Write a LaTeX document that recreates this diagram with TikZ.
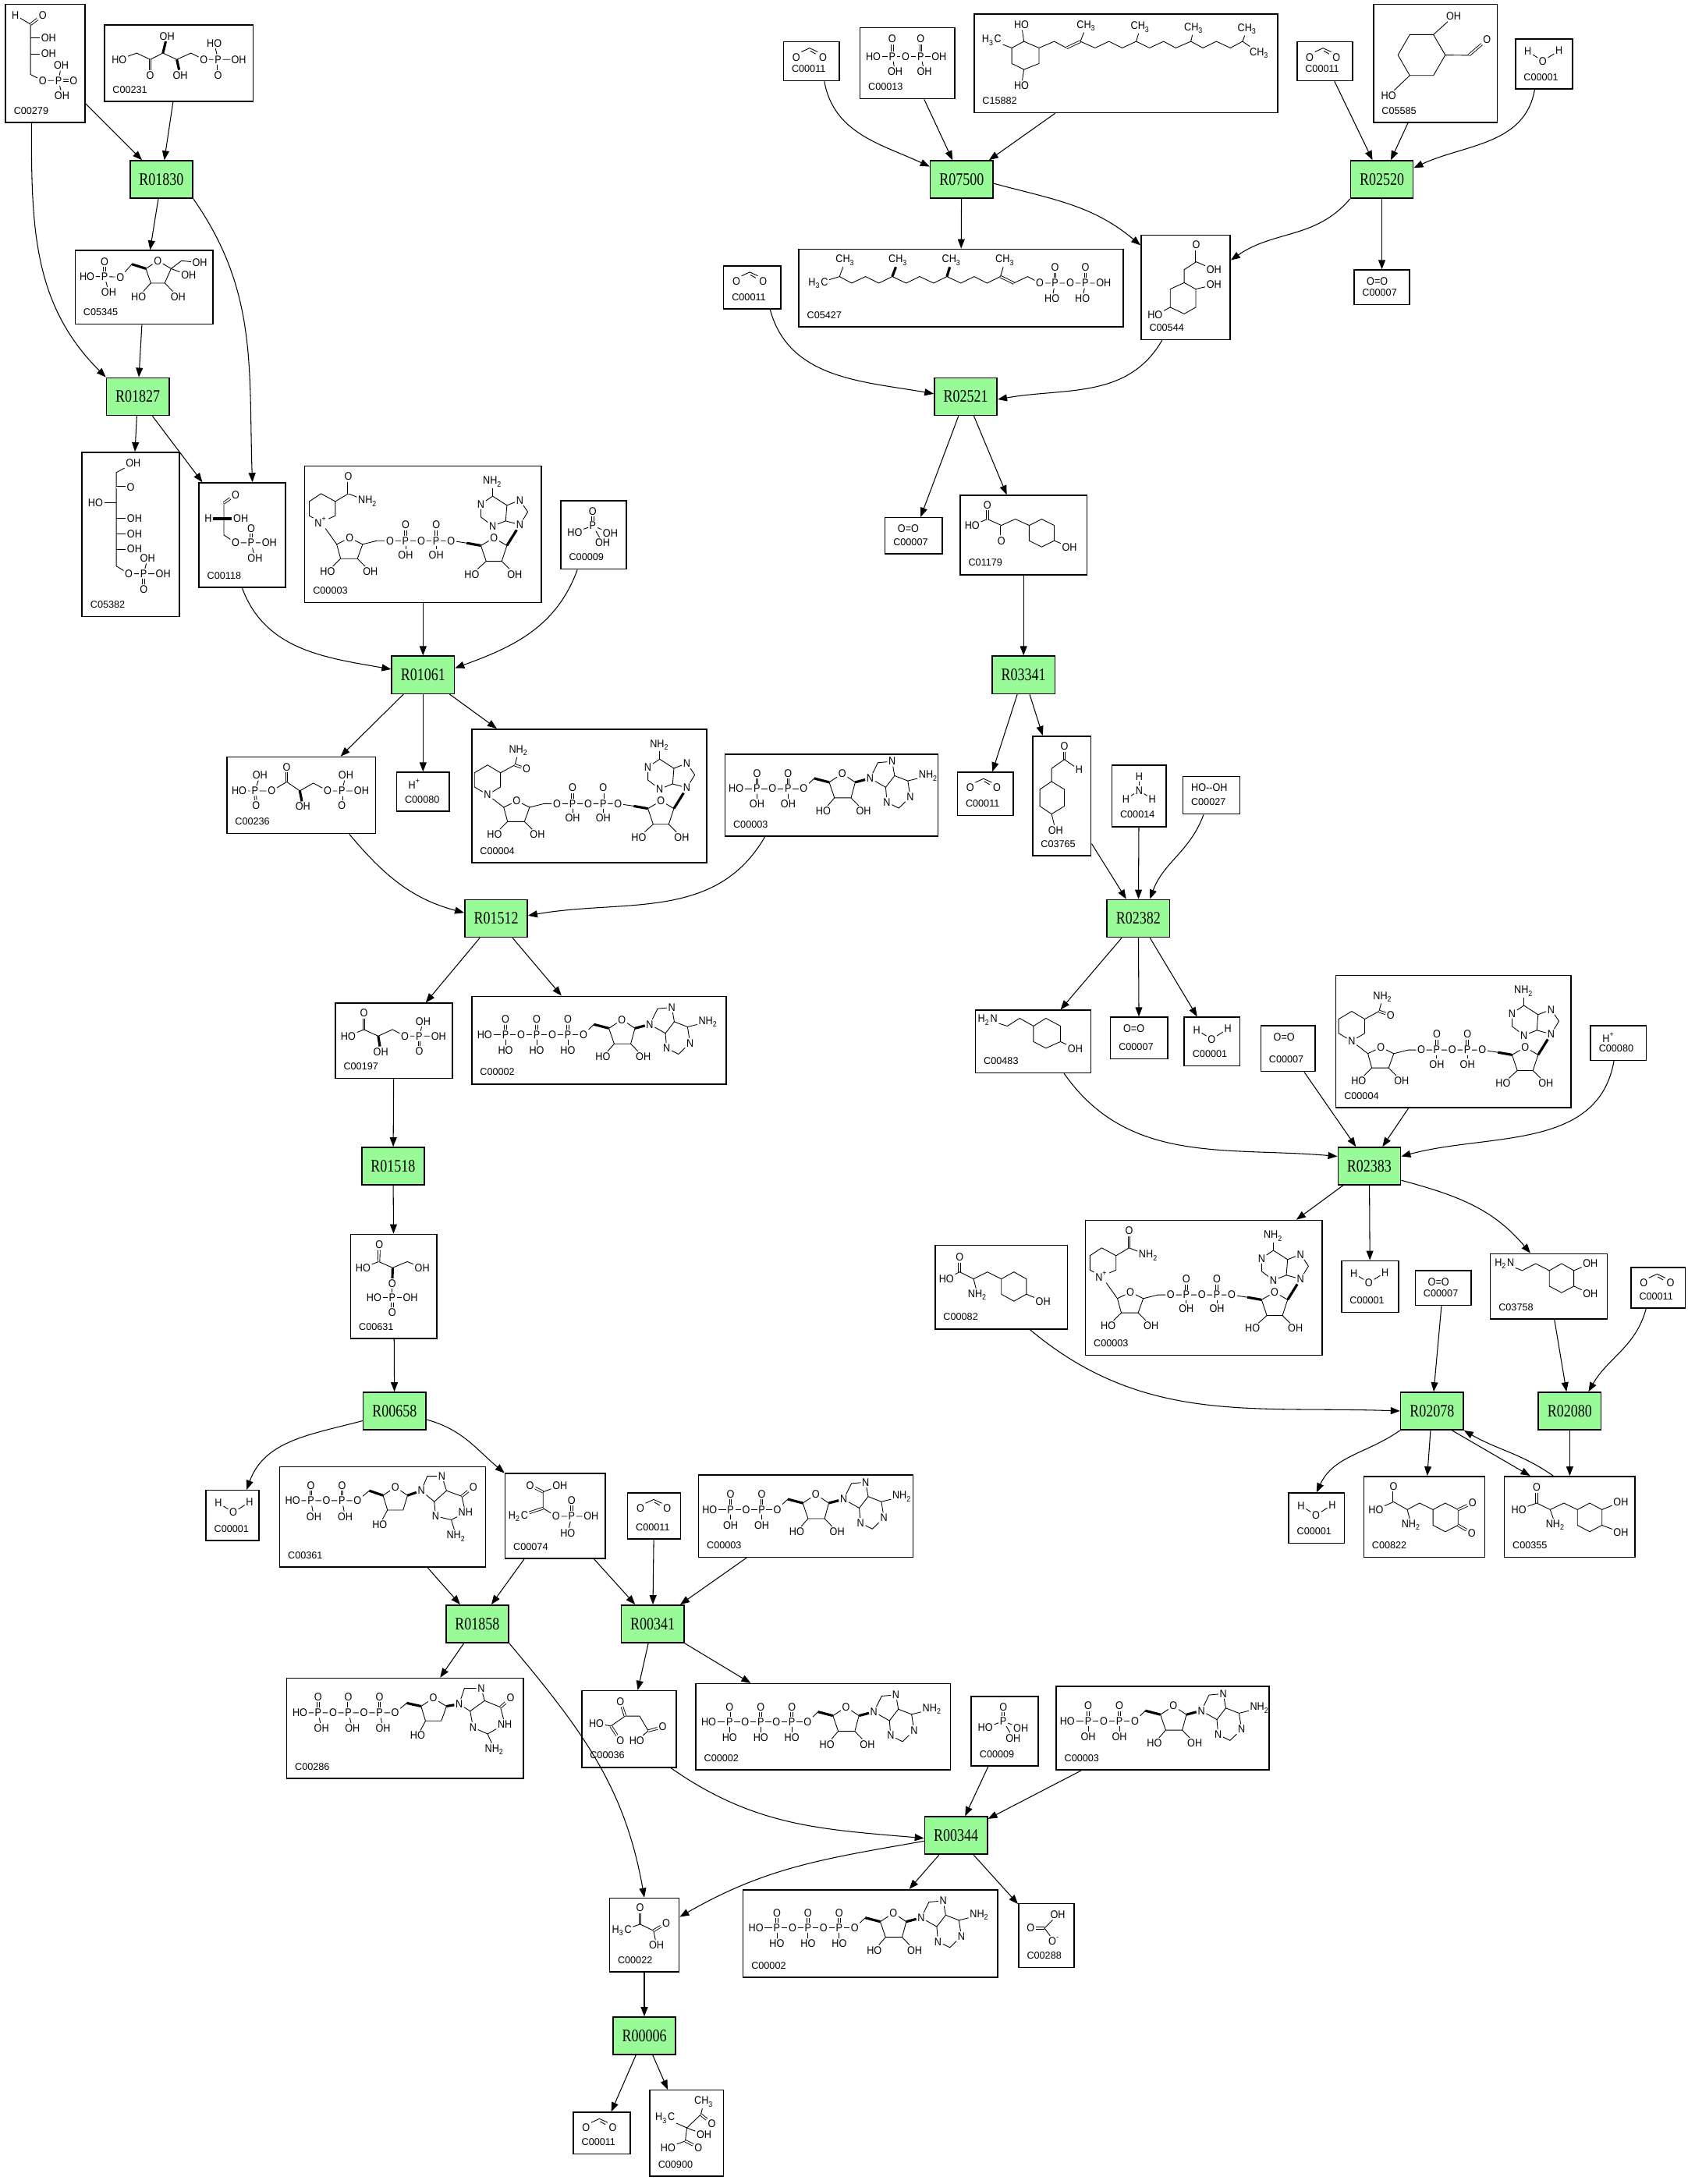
\documentclass[tikz,border=0pt]{standalone}
\usepackage{fontspec}
\usetikzlibrary{arrows.meta}

\newfontfamily\rxnfont[FakeStretch = 0.8]{Liberation Serif}
\newfontfamily\labfont{Liberation Sans}
\newfontfamily\atomfont[FakeStretch = 0.9]{Liberation Sans}
\definecolor{rxngreen}{RGB}{152, 251, 152}

\def\U{0.01784cm}

% Compound box: name, x1, y1, x2, y2, label
\newcommand{\cpd}[6]{%
	\node [cpd, minimum width = {(#4 - #2) * \U}, minimum height = {(#5 - #3) * \U}] (#1) at ({(#2 + #4) / 2}, {(#3 + #5) / 2}) {};
	\node [cpdid, anchor = base west] (#1-id) at ([shift = {(6, -6.5)}] #1.south west) {#6};
}

% Small molecules, placed from the box corner
\newcommand{\water}[1]{%
	\node [atom] (#1-h1) at ([shift = {(9.4, 9.5)}] #1.north west) {H};
	\node [atom] (#1-o) at ([shift = {(20.1, 16.3)}] #1.north west) {O};
	\node [atom] (#1-h2) at ([shift = {(31.8, 8.8)}] #1.north west) {H};
	\draw [bond] (#1-h1) -- (#1-o) -- (#1-h2);
}
\newcommand{\carbdiox}[1]{%
	\node [atom] (#1-o1) at ([shift = {(9.6, 11.5)}] #1.north west) {O};
	\node [atom] (#1-o2) at ([shift = {(28.8, 11.5)}] #1.north west) {O};
	\coordinate (#1-c) at ([shift = {(19.2, 5)}] #1.north west);
	\draw [bond] (#1-o1.north east) -- (#1-c) -- (#1-o2.north west);
	\draw [bond] ([shift = {(0.5, 2)}] #1-c) -- ([shift = {(-1.5, 1.5)}] #1-o2.north west);
}
\newcommand{\dioxy}[1]{%
	\node [atom] (#1-f) at ([shift = {(17.2, 8.5)}] #1.north west) {O=O};
}
\newcommand{\proton}[1]{%
	\node [atom, anchor = west] (#1-f) at ([shift = {(8, 8.8)}] #1.north west) {H\textsuperscript{+}};
}
\newcommand{\perox}[1]{%
	\node [atom] (#1-f) at ([shift = {(19.5, 8.2)}] #1.north west) {HO--OH};
}
\newcommand{\ammonia}[1]{%
	\node [atom] (#1-h1) at ([shift = {(20, 8.4)}] #1.north west) {H};
	\node [atom] (#1-n) at ([shift = {(20, 18.5)}] #1.north west) {N};
	\node [atom] (#1-h2) at ([shift = {(10.6, 24.7)}] #1.north west) {H};
	\node [atom] (#1-h3) at ([shift = {(29.4, 24.7)}] #1.north west) {H};
	\draw [bond] (#1-h1) -- (#1-n);
	\draw [bond] (#1-h2) -- (#1-n) -- (#1-h3);
}
\newcommand{\phosph}[1]{%
	\node [atom] (#1-o) at ([shift = {(23.4, 8)}] #1.north west) {O};
	\node [atom] (#1-p) at ([shift = {(23.4, 18.3)}] #1.north west) {P};
	\node [atom] (#1-ho) at ([shift = {(10.5, 23)}] #1.north west) {HO};
	\node [atom] (#1-oh1) at ([shift = {(36, 23.4)}] #1.north west) {OH};
	\node [atom] (#1-oh2) at ([shift = {(30.5, 30.4)}] #1.north west) {OH};
	\draw [dbond] (#1-o) -- (#1-p);
	\draw [bond] (#1-ho) -- (#1-p) -- (#1-oh1);
	\draw [bond] (#1-p) -- (#1-oh2);
}
\newcommand{\bicarb}[1]{%
	\node [atom] (#1-o1) at ([shift = {(9, 18.1)}] #1.north west) {O};
	\coordinate (#1-c) at ([shift = {(19, 18.1)}] #1.north west);
	\node [atom] (#1-oh) at ([shift = {(28.6, 8.4)}] #1.north west) {OH};
	\node [atom] (#1-o2) at ([shift = {(26, 27.5)}] #1.north west) {O\textsuperscript{-}};
	\draw [dbond] (#1-o1) -- (#1-c);
	\draw [bond] (#1-oh) -- (#1-c) -- (#1-o2);
}

% Nucleotide: box, x, y of first HO, number of phosphates, label under P
\newcommand{\ntail}[5]{%
	\begin{scope}[shift = {(#1.north west)}, shift = {(#2, #3)}]
		\node [atom] (pb0) at (0, 0) {HO};
		\foreach \k [evaluate = \k as \j using int(\k - 1)] in {1, ..., #4} {
			\node [atom] (p\k) at ({15 + 22.4 * (\k - 1)}, 0) {P};
			\node [atom] (po\k) at ({15 + 22.4 * (\k - 1)}, -11) {O};
			\node [atom] (ph\k) at ({15 + 22.4 * (\k - 1)}, 11.2) {#5};
			\node [atom] (pb\k) at ({26.2 + 22.4 * (\k - 1)}, 0) {O};
			\draw [dbond] (po\k) -- (p\k);
			\draw [bond] (pb\j) -- (p\k) -- (pb\k);
			\draw [bond] (p\k) -- (ph\k);
		}
		\begin{scope}[shift = {({26.2 + 22.4 * (#4 - 1)}, 0)}]
			\coordinate (c5) at (7.5, -7.4);
			\coordinate (c4) at (18.3, -4.6);
			\node [atom] (ro) at (27.7, -10.8) {O};
			\coordinate (c1) at (37, -4.6);
			\coordinate (c2) at (34, 6.6);
			\coordinate (c3) at (22.1, 6.6);
			\node [atom] (o3) at (14, 15.9) {HO};
			\node [atom] (o2) at (43, 15.9) {OH};
			\node [atom] (n9) at (47.7, -7.4) {N};
			\coordinate (c8) at (53.3, -18.7);
			\node [atom] (n7) at (63.5, -19.6) {N};
			\coordinate (c5a) at (65.3, -9.3);
			\coordinate (c4a) at (58.9, -1);
			\coordinate (c6) at (74.8, -5.6);
			\node [atom] (nh) at (89.7, -9.3) {NH\textsubscript{2}};
			\node [atom] (n1) at (76.6, 6) {N};
			\coordinate (c2a) at (68.3, 14);
			\node [atom] (n3) at (59.8, 9.7) {N};
			\draw [bond] (pb#4) -- (c5);
			\draw [wedge] (c5) -- (c4);
			\draw [bond] (c4) -- (ro) -- (c1) -- (c2) -- (c3) -- (c4);
			\draw [bond] (c3) -- (o3);
			\draw [bond] (c2) -- (o2);
			\draw [wedge] (c1) -- (n9);
			\draw [bond] (n9) -- (c8) -- (n7) -- (c5a) -- (c4a) -- (n9);
			\draw [bond] (c5a) -- (c6) -- (n1) -- (c2a) -- (n3) -- (c4a);
			\draw [bond] (c6) -- (nh);
		\end{scope}
	\end{scope}
}

% Dinucleotide body, in a scope at the box corner, from the ring nitrogen (n)
\newcommand{\nadcore}{%
	\coordinate (a1) at (23.4, 56.6);
	\node [atom] (a2) at (32.7, 52) {O};
	\coordinate (a3) at (42, 56.6);
	\coordinate (a4) at (38.3, 66.9);
	\coordinate (a5) at (26.2, 66.9);
	\node [atom] (a6) at (16.8, 76.2) {HO};
	\node [atom] (a7) at (47.6, 76.2) {OH};
	\coordinate (a8) at (52.3, 54);
	\node [atom] (b1) at (61.7, 54) {O};
	\node [atom] (b2) at (72.9, 54) {P};
	\node [atom] (b3) at (72.9, 42.6) {O};
	\node [atom] (b4) at (72.9, 64.1) {OH};
	\node [atom] (b5) at (84.1, 54) {O};
	\node [atom] (b6) at (94.9, 54) {P};
	\node [atom] (b7) at (94.9, 42.6) {O};
	\node [atom] (b8) at (94.9, 64.1) {OH};
	\node [atom] (b9) at (105.6, 54) {O};
	\coordinate (d1) at (116.8, 55.7);
	\coordinate (d2) at (127, 57.5);
	\node [atom] (d3) at (136.4, 52) {O};
	\coordinate (d4) at (145.7, 57.5);
	\coordinate (d5) at (142, 68.8);
	\coordinate (d6) at (130.8, 68.8);
	\node [atom] (d7) at (120.5, 78.1) {HO};
	\node [atom] (d8) at (151.3, 78.1) {OH};
	\node [atom] (e1) at (155, 42.6) {N};
	\coordinate (e2) at (160.7, 33.3);
	\node [atom] (e3) at (155, 24.9) {N};
	\coordinate (e4) at (145.7, 28.6);
	\coordinate (e5) at (144.8, 39.8);
	\node [atom] (e6) at (135.5, 43.5) {N};
	\coordinate (e7) at (127, 37);
	\node [atom] (e8) at (127, 27.7) {N};
	\coordinate (e9) at (135.5, 22);
	\node [atom] (e10) at (135.5, 11.8) {NH\textsubscript{2}};
	\draw [bond] (n) -- (a1) -- (a2) -- (a3) -- (a4) -- (a5) -- (a1);
	\draw [bond] (a5) -- (a6);
	\draw [bond] (a4) -- (a7);
	\draw [bond] (a3) -- (a8) -- (b1) -- (b2) -- (b5) -- (b6) -- (b9) -- (d1);
	\draw [dbond] (b2) -- (b3);
	\draw [dbond] (b6) -- (b7);
	\draw [bond] (b2) -- (b4);
	\draw [bond] (b6) -- (b8);
	\draw [wedge] (d1) -- (d2);
	\draw [bond] (d2) -- (d3) -- (d4) -- (d5) -- (d6) -- (d2);
	\draw [bond] (d6) -- (d7);
	\draw [bond] (d5) -- (d8);
	\draw [wedge] (d4) -- (e1);
	\draw [bond] (e1) -- (e2) -- (e3) -- (e4) -- (e5) -- (e1);
	\draw [bond] (e5) -- (e6) -- (e7) -- (e8) -- (e9) -- (e4);
	\draw [bond] (e9) -- (e10);
}
\newcommand{\nadplus}[1]{%
	\begin{scope}[shift = {(#1.north west)}]
		\node [atom] (n) at (12.1, 40.7) {N\textsuperscript{+}};
		\coordinate (r6) at (3.7, 36.1);
		\coordinate (r5) at (3.7, 25.8);
		\coordinate (r4) at (12.1, 20.2);
		\coordinate (r3) at (22.4, 25.8);
		\coordinate (r2) at (22.4, 36.1);
		\coordinate (m1) at (31.8, 20.2);
		\node [atom] (m2) at (31.8, 8) {O};
		\node [atom] (m3) at (45.8, 25.8) {NH\textsubscript{2}};
		\draw [bond] (n) -- (r6) -- (r5) -- (r4) -- (r3) -- (r2) -- (n);
		\draw [bond] (r3) -- (m1) -- (m3);
		\draw [dbond] (m1) -- (m2);
		\nadcore
	\end{scope}
}
\newcommand{\nadh}[1]{%
	\begin{scope}[shift = {(#1.north west)}]
		\node [atom] (n) at (11.8, 47.6) {N};
		\coordinate (r6) at (2.4, 42);
		\coordinate (r5) at (2.4, 31.8);
		\coordinate (r4) at (11.8, 26.2);
		\coordinate (r3) at (21.1, 31.8);
		\coordinate (r2) at (21.1, 42);
		\coordinate (m1) at (31.4, 26.2);
		\node [atom] (m2) at (39.8, 29) {O};
		\node [atom] (m3) at (34.2, 15.9) {NH\textsubscript{2}};
		\draw [bond] (n) -- (r6) -- (r5) -- (r4) -- (r3) -- (r2) -- (n);
		\draw [bond] (r3) -- (m1) -- (m3);
		\draw [dbond] (m1) -- (m2);
		\nadcore
	\end{scope}
}

\begin{document}
\begin{tikzpicture}[
	x = \U, y = -\U,
	rxn/.style = {draw, fill = rxngreen, line width = 0.45pt, inner sep = 0, minimum width = 45 * \U, minimum height = 27 * \U, font = \rxnfont\fontsize{6.4}{7}\selectfont},
	cpd/.style = {draw, line width = 0.45pt, inner sep = 0},
	cpdid/.style = {inner sep = 0, font = \labfont\fontsize{3.6}{4}\selectfont},
	atom/.style = {inner sep = 0.3pt, font = \atomfont\fontsize{4}{5}\selectfont},
	bond/.style = {line width = 0.25pt},
	dbond/.style = {line width = 0.25pt, double, double distance = 0.5pt},
	wedge/.style = {line width = 0.9pt},
	link/.style = {-{Triangle[length = 1.2mm, width = 0.9mm]}, line width = 0.3pt}
	]

	% Frame

	\useasboundingbox (0, 0) rectangle (1213, 1569.5);

	% Reactions

	\node [rxn] (R01830) at (116, 129) {R01830};
	\node [rxn] (R01827) at (99, 285) {R01827};
	\node [rxn] (R01061) at (304, 485) {R01061};
	\node [rxn] (R01512) at (356.5, 660) {R01512};
	\node [rxn] (R01518) at (282.5, 838) {R01518};
	\node [rxn] (R00658) at (283.5, 1014) {R00658};
	\node [rxn] (R01858) at (343, 1167) {R01858};
	\node [rxn] (R00341) at (469, 1167) {R00341};
	\node [rxn] (R00344) at (687, 1319) {R00344};
	\node [rxn] (R00006) at (463, 1463) {R00006};
	\node [rxn] (R07500) at (691, 129) {R07500};
	\node [rxn] (R02520) at (993, 129) {R02520};
	\node [rxn] (R02521) at (694, 285) {R02521};
	\node [rxn] (R03341) at (735.5, 485) {R03341};
	\node [rxn] (R02382) at (818, 660) {R02382};
	\node [rxn] (R02383) at (984, 838) {R02383};
	\node [rxn] (R02078) at (1029, 1014) {R02078};
	\node [rxn] (R02080) at (1128, 1014) {R02080};

	% Compounds, left branch

	\cpd{C00279}{4}{3}{61}{88}{C00279}
	\begin{scope}[shift = {(C00279.north west)}]
		\node [atom] (h) at (7.5, 8.4) {H};
		\coordinate (c1) at (18.4, 14.9);
		\node [atom] (o1) at (27.1, 8.4) {O};
		\coordinate (c2) at (18.4, 24.8);
		\node [atom] (o2) at (31.4, 24.8) {OH};
		\coordinate (c3) at (18.4, 36.1);
		\node [atom] (o3) at (31.4, 36.1) {OH};
		\coordinate (c4) at (18.4, 51);
		\node [atom] (o4) at (27.1, 55.3) {O};
		\node [atom] (p) at (38.5, 55.3) {P};
		\node [atom] (o5) at (40.5, 44.5) {OH};
		\node [atom] (o6) at (49.3, 55.3) {O};
		\node [atom] (o7) at (41, 66) {OH};
		\draw [bond] (h) -- (c1) -- (c4) -- (o4) -- (p) -- (o5);
		\draw [dbond] (c1) -- (o1);
		\draw [dbond] (p) -- (o6);
		\draw [bond] (c2) -- (o2);
		\draw [bond] (c3) -- (o3);
		\draw [bond] (p) -- (o7);
	\end{scope}

	\cpd{C00231}{75}{18}{182}{73}{C00231}
	\begin{scope}[shift = {(C00231.north west)}]
		\node [atom] (o1) at (11.1, 25.2) {HO};
		\coordinate (c1) at (23.6, 20.6);
		\coordinate (c2) at (33.4, 25.2);
		\node [atom] (o2) at (33.4, 36.4) {O};
		\coordinate (c3) at (42.5, 20.6);
		\node [atom] (o3) at (45.5, 8.4) {OH};
		\coordinate (c4) at (52.5, 25.2);
		\node [atom] (o4) at (55, 36.4) {OH};
		\coordinate (c5) at (62.6, 20.6);
		\node [atom] (o5) at (71.9, 25.2) {O};
		\node [atom] (p) at (82.2, 25.2) {P};
		\node [atom] (o6) at (79.4, 13.6) {HO};
		\node [atom] (o7) at (82.2, 36.4) {O};
		\node [atom] (o8) at (97, 25.2) {OH};
		\draw [bond] (o1) -- (c1) -- (c2) -- (c3) -- (c4) -- (c5) -- (o5) -- (p) -- (o8);
		\draw [dbond] (c2) -- (o2);
		\draw [wedge] (c3) -- (o3);
		\draw [wedge] (c4) -- (o4);
		\draw [bond] (p) -- (o6);
		\draw [dbond] (p) -- (o7);
	\end{scope}

	\cpd{C05345}{54}{180}{153}{233}{C05345}
	\begin{scope}[shift = {(C05345.north west)}]
		\node [atom] (o1) at (9, 19.2) {HO};
		\node [atom] (p) at (21.6, 19.2) {P};
		\node [atom] (o2) at (21.6, 8.4) {O};
		\node [atom] (o3) at (24.6, 30.3) {OH};
		\node [atom] (o4) at (32.9, 19.6) {O};
		\coordinate (c6) at (41.2, 10.3);
		\coordinate (c5) at (51.3, 13.5);
		\node [atom] (o5) at (59.8, 7.8) {O};
		\coordinate (c2) at (69.4, 13.5);
		\coordinate (c3) at (64.8, 23.9);
		\coordinate (c4) at (54.8, 23.9);
		\node [atom] (o6) at (46, 33.6) {HO};
		\node [atom] (o7) at (74.4, 33.6) {OH};
		\node [atom] (o8) at (82, 18.3) {OH};
		\coordinate (c1) at (76.9, 7.8);
		\node [atom] (o9) at (90, 9.3) {OH};
		\draw [bond] (o1) -- (p) -- (o4) -- (c6);
		\draw [wedge] (c6) -- (c5);
		\draw [bond] (c5) -- (o5) -- (c2) -- (c3) -- (c4) -- (c5);
		\draw [dbond] (p) -- (o2);
		\draw [bond] (p) -- (o3);
		\draw [bond] (c4) -- (o6);
		\draw [bond] (c3) -- (o7);
		\draw [bond] (c2) -- (o8);
		\draw [bond] (c2) -- (c1) -- (o9);
	\end{scope}

	\cpd{C05382}{59}{325}{129}{443}{C05382}
	\begin{scope}[shift = {(C05382.north west)}]
		\node [atom] (o1) at (37.2, 8.4) {OH};
		\coordinate (c1) at (25, 15);
		\coordinate (c2) at (25, 25.6);
		\node [atom] (o2) at (35.3, 25.6) {O};
		\coordinate (c3) at (25, 36.8);
		\node [atom] (o3) at (10.1, 36.8) {HO};
		\coordinate (c4) at (25, 48);
		\node [atom] (o4) at (38.1, 48) {OH};
		\coordinate (c5) at (25, 59.2);
		\node [atom] (o5) at (38.1, 59.2) {OH};
		\coordinate (c6) at (25, 70.1);
		\node [atom] (o6) at (38.1, 70.1) {OH};
		\coordinate (c7) at (25, 82.2);
		\node [atom] (o7) at (34, 87.8) {O};
		\node [atom] (p) at (44.7, 87.8) {P};
		\node [atom] (o8) at (47.5, 76.6) {OH};
		\node [atom] (o9) at (58.7, 87.8) {OH};
		\node [atom] (o10) at (44.7, 99) {O};
		\draw [bond] (o1) -- (c1) -- (c7) -- (o7) -- (p) -- (o9);
		\draw [dbond] (c2) -- (o2);
		\draw [bond] (c3) -- (o3);
		\draw [bond] (c4) -- (o4);
		\draw [bond] (c5) -- (o5);
		\draw [bond] (c6) -- (o6);
		\draw [bond] (p) -- (o8);
		\draw [dbond] (p) -- (o10);
	\end{scope}

	\cpd{C00118}{143}{347}{205}{422}{C00118}
	\begin{scope}[shift = {(C00118.north west)}]
		\node [atom] (o1) at (26.7, 9) {O};
		\coordinate (c1) at (18.3, 14.9);
		\coordinate (c2) at (18.3, 26.2);
		\node [atom] (h) at (7.1, 26.2) {H};
		\node [atom] (o2) at (30.5, 26.2) {OH};
		\coordinate (c3) at (18.3, 37.9);
		\node [atom] (o3) at (26.7, 43.5) {O};
		\node [atom] (p) at (37.9, 43.5) {P};
		\node [atom] (o4) at (37.9, 33.3) {O};
		\node [atom] (o5) at (51, 43.5) {OH};
		\node [atom] (o6) at (40.7, 54.7) {OH};
		\draw [dbond] (c1) -- (o1);
		\draw [bond] (c1) -- (c2) -- (c3) -- (o3) -- (p) -- (o5);
		\draw [wedge] (c2) -- (h);
		\draw [wedge] (c2) -- (o2);
		\draw [dbond] (p) -- (o4);
		\draw [bond] (p) -- (o6);
	\end{scope}

	\cpd{C00003a}{219}{335}{389}{433}{C00003}
	\nadplus{C00003a}
	\cpd{C00009a}{403}{360}{450}{409}{C00009}
	\phosph{C00009a}

	\cpd{C00236}{163}{544}{270}{599}{C00236}
	\begin{scope}[shift = {(C00236.north west)}]
		\node [atom] (o1) at (9.3, 24.8) {HO};
		\node [atom] (p1) at (20.6, 24.8) {P};
		\node [atom] (o2) at (24.3, 13.6) {OH};
		\node [atom] (o3) at (21.5, 35.1) {O};
		\node [atom] (o4) at (32.7, 24.8) {O};
		\coordinate (c1) at (43.5, 18.3);
		\node [atom] (o5) at (43.5, 7.7) {O};
		\coordinate (c2) at (52.9, 24.8);
		\node [atom] (o6) at (55.1, 36.1) {OH};
		\coordinate (c3) at (62.6, 19.2);
		\node [atom] (o7) at (72.9, 24.8) {O};
		\node [atom] (p2) at (83.1, 24.8) {P};
		\node [atom] (o8) at (86, 13.6) {OH};
		\node [atom] (o9) at (97.2, 24.8) {OH};
		\node [atom] (o10) at (83.1, 35.1) {O};
		\draw [bond] (o1) -- (p1) -- (o4) -- (c1) -- (c2) -- (c3) -- (o7) -- (p2) -- (o9);
		\draw [bond] (p1) -- (o2);
		\draw [dbond] (p1) -- (o3);
		\draw [dbond] (c1) -- (o5);
		\draw [wedge] (c2) -- (o6);
		\draw [bond] (p2) -- (o8);
		\draw [dbond] (p2) -- (o10);
	\end{scope}

	\cpd{C00080a}{285}{555}{323}{583}{C00080}
	\proton{C00080a}
	\cpd{C00004a}{339}{524}{508}{620}{C00004}
	\nadh{C00004a}
	\cpd{C00003b}{521}{542}{674}{601}{C00003}
	\ntail{C00003b}{8.4}{25.2}{2}{OH}

	\cpd{C00197}{241}{721}{325}{775}{C00197}
	\begin{scope}[shift = {(C00197.north west)}]
		\node [atom] (o1) at (9.7, 24) {HO};
		\coordinate (c1) at (20.9, 19.3);
		\node [atom] (o2) at (20.9, 7.6) {O};
		\coordinate (c2) at (31.2, 24);
		\node [atom] (o3) at (33.1, 35.2) {OH};
		\coordinate (c3) at (41.5, 19.3);
		\node [atom] (o4) at (50.4, 24) {O};
		\node [atom] (p) at (60.7, 24) {P};
		\node [atom] (o5) at (63.5, 13.6) {OH};
		\node [atom] (o6) at (74.6, 24) {OH};
		\node [atom] (o7) at (60.7, 35) {O};
		\draw [bond] (o1) -- (c1) -- (c2) -- (c3) -- (o4) -- (p) -- (o6);
		\draw [dbond] (c1) -- (o2);
		\draw [wedge] (c2) -- (o3);
		\draw [bond] (p) -- (o5);
		\draw [dbond] (p) -- (o7);
	\end{scope}

	\cpd{C00002a}{339}{716}{522}{779}{C00002}
	\ntail{C00002a}{9.7}{28}{3}{HO}

	\cpd{C00631}{252}{887}{314}{962}{C00631}
	\begin{scope}[shift = {(C00631.north west)}]
		\node [atom] (o1) at (9.3, 24.5) {HO};
		\coordinate (c1) at (20.6, 20.1);
		\node [atom] (o2) at (21, 8.1) {O};
		\coordinate (c2) at (30.6, 24.5);
		\node [atom] (o3) at (30.3, 35.8) {O};
		\coordinate (c3) at (41.1, 20.1);
		\node [atom] (o4) at (51.8, 24.5) {OH};
		\node [atom] (p) at (30.3, 45.9) {P};
		\node [atom] (o5) at (17.2, 45.9) {HO};
		\node [atom] (o6) at (43.3, 45.9) {OH};
		\node [atom] (o7) at (30.3, 56.6) {O};
		\draw [bond] (o1) -- (c1) -- (c2) -- (c3) -- (o4);
		\draw [dbond] (c1) -- (o2);
		\draw [wedge] (c2) -- (o3);
		\draw [bond] (o3) -- (p);
		\draw [bond] (o5) -- (p) -- (o6);
		\draw [dbond] (p) -- (o7);
	\end{scope}

	\cpd{C00001a}{148}{1071}{186}{1107}{C00001}
	\water{C00001a}

	\cpd{C00361}{201}{1054}{349}{1126}{C00361}
	\begin{scope}[shift = {(C00361.north west)}]
		\node [atom] (o1) at (9.7, 24.8) {HO};
		\node [atom] (p1) at (22.8, 24.8) {P};
		\node [atom] (o2) at (22.8, 13.8) {O};
		\node [atom] (o3) at (25, 36.3) {OH};
		\node [atom] (o4) at (34, 24.8) {O};
		\node [atom] (p2) at (45.2, 24.8) {P};
		\node [atom] (o5) at (45.2, 13.8) {O};
		\node [atom] (o6) at (47.5, 36.3) {OH};
		\node [atom] (o7) at (56.4, 24.8) {O};
		\coordinate (c5) at (64.8, 17.7);
		\coordinate (c4) at (74.7, 21.1);
		\node [atom] (o8) at (83.5, 15.1) {O};
		\coordinate (c1) at (92.3, 21.1);
		\coordinate (c2) at (89.1, 31.6);
		\coordinate (c3) at (77.9, 31.6);
		\node [atom] (o9) at (72.3, 42) {HO};
		\node [atom] (n9) at (102.2, 17.7) {N};
		\coordinate (c8) at (106.5, 7.3);
		\node [atom] (n7) at (117, 7.3) {N};
		\coordinate (c5a) at (120.3, 17.7);
		\coordinate (c4a) at (111.5, 25.6);
		\coordinate (c6) at (131.2, 21.7);
		\node [atom] (o10) at (139.6, 15.1) {O};
		\node [atom] (n1) at (134, 33.4) {NH};
		\coordinate (c2a) at (123.7, 38.6);
		\node [atom] (n3) at (112.5, 36) {N};
		\node [atom] (n2) at (127.4, 50.4) {NH\textsubscript{2}};
		\draw [bond] (o1) -- (p1) -- (o4) -- (p2) -- (o7) -- (c5);
		\draw [dbond] (p1) -- (o2);
		\draw [dbond] (p2) -- (o5);
		\draw [bond] (p1) -- (o3);
		\draw [bond] (p2) -- (o6);
		\draw [wedge] (c5) -- (c4);
		\draw [bond] (c4) -- (o8) -- (c1) -- (c2) -- (c3) -- (c4);
		\draw [bond] (c3) -- (o9);
		\draw [wedge] (c1) -- (n9);
		\draw [bond] (n9) -- (c8) -- (n7) -- (c5a) -- (c4a) -- (n9);
		\draw [bond] (c5a) -- (c6) -- (n1) -- (c2a) -- (n3) -- (c4a);
		\draw [dbond] (c6) -- (o10);
		\draw [bond] (c2a) -- (n2);
	\end{scope}

	\cpd{C00074}{363}{1059}{435}{1120}{C00074}
	\begin{scope}[shift = {(C00074.north west)}]
		\node [atom] (o1) at (18.3, 8.9) {O};
		\coordinate (c1) at (27.7, 13.6);
		\node [atom] (o2) at (39.8, 8.9) {OH};
		\coordinate (c2) at (27.7, 25.3);
		\node [atom] (c3) at (9.9, 31.1) {H\textsubscript{2}C};
		\node [atom] (o3) at (37, 31.1) {O};
		\node [atom] (p) at (48.2, 31.1) {P};
		\node [atom] (o4) at (48.2, 19.6) {O};
		\node [atom] (o5) at (62.2, 31.1) {OH};
		\node [atom] (o6) at (45.4, 43.1) {HO};
		\draw [dbond] (c1) -- (o1);
		\draw [bond] (c1) -- (o2);
		\draw [bond] (c1) -- (c2) -- (o3) -- (p) -- (o5);
		\draw [dbond] (c2) -- (c3);
		\draw [dbond] (p) -- (o4);
		\draw [bond] (p) -- (o6);
	\end{scope}

	\cpd{C00011a}{451}{1073}{489}{1106}{C00011}
	\carbdiox{C00011a}
	\cpd{C00003c}{502}{1060}{656}{1119}{C00003}
	\ntail{C00003c}{8.4}{25.2}{2}{OH}

	\cpd{C00286}{206}{1206}{376}{1278}{C00286}
	\begin{scope}[shift = {(C00286.north west)}]
		\node [atom] (o1) at (10, 25.3) {HO};
		\node [atom] (p1) at (23, 25.3) {P};
		\node [atom] (o2) at (23, 14) {O};
		\node [atom] (o3) at (25.5, 36.3) {OH};
		\node [atom] (o4) at (33.8, 25.3) {O};
		\node [atom] (p2) at (44.8, 25.3) {P};
		\node [atom] (o5) at (44.8, 14) {O};
		\node [atom] (o6) at (47.7, 36.3) {OH};
		\node [atom] (o7) at (56, 25.3) {O};
		\node [atom] (p3) at (67.2, 25.3) {P};
		\node [atom] (o8) at (67.2, 14) {O};
		\node [atom] (o9) at (69.7, 36.3) {OH};
		\node [atom] (o10) at (78.4, 25.3) {O};
		\coordinate (c5) at (86.7, 18.3);
		\coordinate (c4) at (97, 20.6);
		\node [atom] (o11) at (105.8, 14.8) {O};
		\coordinate (c1) at (115.3, 20.6);
		\coordinate (c2) at (111.6, 31.1);
		\coordinate (c3) at (100.2, 31.1);
		\node [atom] (o12) at (94.6, 41.7) {HO};
		\node [atom] (n9) at (124.4, 19) {N};
		\coordinate (c8) at (128.2, 7.7);
		\node [atom] (n7) at (140.2, 7.7) {N};
		\coordinate (c5a) at (142.7, 16.6);
		\coordinate (c4a) at (132.3, 24.1);
		\coordinate (c6) at (154.1, 21.3);
		\node [atom] (o13) at (161.3, 14.8) {O};
		\node [atom] (n1) at (157.2, 33.5) {NH};
		\coordinate (c2a) at (144.8, 40.5);
		\node [atom] (n3) at (134.4, 35.8) {N};
		\node [atom] (n2) at (149.9, 51.7) {NH\textsubscript{2}};
		\draw [bond] (o1) -- (p1) -- (o4) -- (p2) -- (o7) -- (p3) -- (o10) -- (c5);
		\draw [dbond] (p1) -- (o2);
		\draw [dbond] (p2) -- (o5);
		\draw [dbond] (p3) -- (o8);
		\draw [bond] (p1) -- (o3);
		\draw [bond] (p2) -- (o6);
		\draw [bond] (p3) -- (o9);
		\draw [wedge] (c5) -- (c4);
		\draw [bond] (c4) -- (o11) -- (c1) -- (c2) -- (c3) -- (c4);
		\draw [bond] (c3) -- (o12);
		\draw [wedge] (c1) -- (n9);
		\draw [bond] (n9) -- (c8) -- (n7) -- (c5a) -- (c4a) -- (n9);
		\draw [bond] (c5a) -- (c6) -- (n1) -- (c2a) -- (n3) -- (c4a);
		\draw [dbond] (c6) -- (o13);
		\draw [bond] (c2a) -- (n2);
	\end{scope}

	\cpd{C00036}{418}{1215}{486}{1270}{C00036}
	\begin{scope}[shift = {(C00036.north west)}]
		\node [atom] (o1) at (11, 23.9) {HO};
		\coordinate (c1) at (21.4, 25.8);
		\node [atom] (o2) at (28.2, 36.3) {O};
		\coordinate (c2) at (31.7, 18.7);
		\node [atom] (o3) at (28.2, 8.2) {O};
		\coordinate (c3) at (42.1, 18.7);
		\coordinate (c4) at (48.3, 29.3);
		\node [atom] (o4) at (58.7, 26.5) {O};
		\node [atom] (o5) at (40, 36.3) {HO};
		\draw [bond] (o1) -- (c1) -- (c2) -- (c3) -- (c4) -- (o5);
		\draw [dbond] (c1) -- (o2);
		\draw [dbond] (c2) -- (o3);
		\draw [dbond] (c4) -- (o4);
	\end{scope}

	\cpd{C00002b}{500}{1210}{683}{1272}{C00002}
	\ntail{C00002b}{9.7}{28}{3}{HO}
	\cpd{C00009b}{698}{1219}{746}{1269}{C00009}
	\phosph{C00009b}
	\cpd{C00003d}{759}{1212}{912}{1272}{C00003}
	\ntail{C00003d}{8.4}{25.2}{2}{OH}

	\cpd{C00022}{438}{1364}{488}{1417}{C00022}
	\begin{scope}[shift = {(C00022.north west)}]
		\node [atom] (o1) at (22.4, 7.5) {O};
		\coordinate (c2) at (22.4, 19.2);
		\node [atom] (c3) at (9.3, 23.9) {H\textsubscript{3}C};
		\coordinate (c1) at (32.1, 23.9);
		\node [atom] (o2) at (41.1, 18.5) {O};
		\node [atom] (o3) at (34.2, 34.4) {OH};
		\draw [dbond] (c2) -- (o1);
		\draw [bond] (c3) -- (c2) -- (c1) -- (o3);
		\draw [dbond] (c1) -- (o2);
	\end{scope}

	\cpd{C00002c}{534}{1358}{717}{1421}{C00002}
	\ntail{C00002c}{9.7}{28}{3}{HO}
	\cpd{C00288}{732}{1368}{772}{1414}{C00288}
	\bicarb{C00288}
	\cpd{C00011b}{412}{1518}{453}{1548}{C00011}
	\carbdiox{C00011b}

	\cpd{C00900}{467}{1502}{520}{1564}{C00900}
	\begin{scope}[shift = {(C00900.north west)}]
		\node [atom] (m1) at (39.4, 8.9) {CH\textsubscript{3}};
		\coordinate (c3) at (37, 18);
		\node [atom] (o1) at (45, 24.5) {O};
		\node [atom] (m2) at (11.4, 20.6) {H\textsubscript{3}C};
		\coordinate (c2) at (27, 27.6);
		\node [atom] (o2) at (39.4, 32.3) {OH};
		\coordinate (c1) at (25.9, 37);
		\node [atom] (o3) at (13.5, 41.7) {HO};
		\node [atom] (o4) at (35.3, 41.7) {O};
		\draw [bond] (m1) -- (c3) -- (c2) -- (m2);
		\draw [dbond] (c3) -- (o1);
		\draw [bond] (c2) -- (o2);
		\draw [bond] (c2) -- (c1) -- (o3);
		\draw [dbond] (c1) -- (o4);
	\end{scope}

	% Compounds, right branch

	\cpd{C00011c}{563}{30}{603}{58}{C00011}
	\carbdiox{C00011c}

	\cpd{C00013}{618}{20}{686}{71}{C00013}
	\begin{scope}[shift = {(C00013.north west)}]
		\node [atom] (o1) at (10, 20.9) {HO};
		\node [atom] (p1) at (23.6, 20.9) {P};
		\node [atom] (o2) at (23.6, 8.4) {O};
		\node [atom] (o3) at (25.7, 31.8) {OH};
		\node [atom] (o4) at (33.2, 20.9) {O};
		\node [atom] (p2) at (44.1, 20.9) {P};
		\node [atom] (o5) at (44.1, 8.4) {O};
		\node [atom] (o6) at (46.7, 31.8) {OH};
		\node [atom] (o7) at (57.2, 20.9) {OH};
		\draw [bond] (o1) -- (p1) -- (o4) -- (p2) -- (o7);
		\draw [dbond] (p1) -- (o2);
		\draw [dbond] (p2) -- (o5);
		\draw [bond] (p1) -- (o3);
		\draw [bond] (p2) -- (o6);
	\end{scope}

	\cpd{C15882}{700}{10}{918}{81}{C15882}
	\begin{scope}[shift = {(C15882.north west)}]
		\coordinate (r1) at (36.2, 20.2);
		\coordinate (r2) at (47.1, 24.9);
		\coordinate (r3) at (47.1, 36.1);
		\coordinate (r4) at (36.2, 40.4);
		\coordinate (r5) at (27.5, 36.1);
		\coordinate (r6) at (27.5, 24.9);
		\node [atom] (o1) at (34.5, 8.4) {HO};
		\node [atom] (o2) at (34.5, 52) {HO};
		\node [atom] (m0) at (13.1, 19.5) {H\textsubscript{3}C};
		\node [atom] (m1) at (81.2, 9) {CH\textsubscript{3}};
		\node [atom] (m2) at (120, 9.9) {CH\textsubscript{3}};
		\node [atom] (m3) at (158.4, 10.8) {CH\textsubscript{3}};
		\node [atom] (m4) at (196.8, 11.2) {CH\textsubscript{3}};
		\node [atom] (m5) at (205.5, 28.6) {CH\textsubscript{3}};
		\draw [bond] (r1) -- (r2) -- (r3) -- (r4) -- (r5) -- (r6) -- cycle;
		\draw [bond] (r1) -- (o1);
		\draw [bond] (r4) -- (o2);
		\draw [bond] (r6) -- (m0);
		\draw [bond] (r2) -- (58, 20.2) -- (66.8, 24.9);
		\draw [dbond] (66.8, 24.9) -- (76.8, 20.2);
		\draw [bond] (76.8, 20.2) -- (87.3, 24.9) -- (97.3, 20.2) -- (106.9, 24.9) -- (116.9, 20.2) -- (126.5, 24.9) -- (136.6, 20.2) -- (145.3, 24.9) -- (156.2, 20.2) -- (164.9, 24.9) -- (174.5, 20.2) -- (184.6, 24.9) -- (193.3, 20.2) -- (m5);
		\draw [bond] (76.8, 20.2) -- (m1);
		\draw [bond] (116.9, 20.2) -- (m2);
		\draw [bond] (156.2, 20.2) -- (m3);
		\draw [bond] (193.3, 20.2) -- (m4);
	\end{scope}

	\cpd{C00011d}{932}{30}{972}{58}{C00011}
	\carbdiox{C00011d}

	\cpd{C05585}{987}{3}{1076}{88}{C05585}
	\begin{scope}[shift = {(C05585.north west)}]
		\coordinate (r1) at (43.5, 22.3);
		\coordinate (r2) at (52, 37);
		\coordinate (r3) at (43.5, 51.7);
		\coordinate (r4) at (26.5, 51.7);
		\coordinate (r5) at (18, 37);
		\coordinate (r6) at (26.5, 22.3);
		\node [atom] (o1) at (58, 9.2) {OH};
		\node [atom] (o2) at (11.3, 66.1) {HO};
		\coordinate (c1) at (68.9, 37.2);
		\node [atom] (o3) at (82, 26) {O};
		\draw [bond] (r1) -- (r2) -- (r3) -- (r4) -- (r5) -- (r6) -- cycle;
		\draw [bond] (r1) -- (o1);
		\draw [bond] (r4) -- (o2);
		\draw [bond] (r2) -- (c1);
		\draw [dbond] (c1) -- (o3);
	\end{scope}

	\cpd{C00001b}{1089}{28}{1130}{64}{C00001}
	\water{C00001b}
	\cpd{C00011e}{520}{191}{561}{222}{C00011}
	\carbdiox{C00011e}

	\cpd{C05427}{574}{179}{807}{235}{C05427}
	\begin{scope}[shift = {(C05427.north west)}]
		\node [atom] (m0) at (14.4, 24.9) {H\textsubscript{3}C};
		\node [atom] (m1) at (34, 8.6) {CH\textsubscript{3}};
		\node [atom] (m2) at (72, 8.6) {CH\textsubscript{3}};
		\node [atom] (m3) at (110.4, 8.6) {CH\textsubscript{3}};
		\node [atom] (m4) at (148.8, 8.6) {CH\textsubscript{3}};
		\node [atom] (o1) at (173.7, 24.9) {O};
		\node [atom] (p1) at (184.6, 24.9) {P};
		\node [atom] (o2) at (184.6, 13.6) {O};
		\node [atom] (o3) at (182.4, 36.1) {HO};
		\node [atom] (o4) at (195.5, 24.9) {O};
		\node [atom] (p2) at (206.4, 24.9) {P};
		\node [atom] (o5) at (206.4, 13.6) {O};
		\node [atom] (o6) at (204.3, 36.1) {HO};
		\node [atom] (o7) at (219.5, 24.9) {OH};
		\draw [bond] (m0) -- (29.7, 20.2) -- (38.4, 24.9) -- (48.4, 20.2) -- (58, 24.9) -- (67.6, 20.2) -- (77.6, 24.9) -- (87.3, 20.2) -- (97.3, 24.9) -- (106.9, 20.2) -- (116.9, 24.9) -- (126.5, 20.2) -- (135.7, 24.9) -- (145.3, 20.2);
		\draw [dbond] (145.3, 20.2) -- (154.9, 24.9);
		\draw [bond] (154.9, 24.9) -- (164.9, 20.2) -- (o1) -- (p1) -- (o4) -- (p2) -- (o7);
		\draw [bond] (29.7, 20.2) -- (m1);
		\draw [wedge] (67.6, 20.2) -- (m2);
		\draw [wedge] (106.9, 20.2) -- (m3);
		\draw [bond] (145.3, 20.2) -- (m4);
		\draw [dbond] (p1) -- (o2);
		\draw [dbond] (p2) -- (o5);
		\draw [bond] (p1) -- (o3);
		\draw [bond] (p2) -- (o6);
	\end{scope}

	\cpd{C00544}{820}{169}{884}{244}{C00544}
	\begin{scope}[shift = {(C00544.north west)}]
		\node [atom] (o1) at (40.1, 7.5) {O};
		\coordinate (c1) at (40.1, 19.6);
		\node [atom] (o2) at (52.8, 25.2) {OH};
		\coordinate (c2) at (31.4, 25.2);
		\coordinate (r1) at (31.4, 34.6);
		\coordinate (r2) at (39.7, 39.2);
		\coordinate (r3) at (39.7, 52.3);
		\coordinate (r4) at (31.4, 57);
		\coordinate (r5) at (21.4, 52.3);
		\coordinate (r6) at (21.4, 39.2);
		\node [atom] (o3) at (52.8, 36.1) {OH};
		\node [atom] (o4) at (10.5, 57.9) {HO};
		\draw [dbond] (c1) -- (o1);
		\draw [bond] (o2) -- (c1) -- (c2) -- (r1);
		\draw [bond] (r1) -- (r2) -- (r3) -- (r4) -- (r5) -- (r6) -- cycle;
		\draw [bond] (r2) -- (o3);
		\draw [bond] (r5) -- (o4);
	\end{scope}

	\cpd{C00007a}{973}{194}{1013}{219}{C00007}
	\dioxy{C00007a}
	\cpd{C00007b}{636}{372}{677}{398}{C00007}
	\dioxy{C00007b}

	\cpd{C01179}{690}{356}{781}{413}{C01179}
	\begin{scope}[shift = {(C01179.north west)}]
		\node [atom] (o1) at (9, 22) {HO};
		\coordinate (c1) at (20, 17.5);
		\node [atom] (o2) at (20, 7.5) {O};
		\coordinate (c2) at (30, 22);
		\node [atom] (o3) at (30, 33) {O};
		\coordinate (c3) at (40, 17.5);
		\coordinate (r1) at (50, 22);
		\coordinate (r2) at (59, 17.5);
		\coordinate (r3) at (68, 22);
		\coordinate (r4) at (68, 33);
		\coordinate (r5) at (59, 37.5);
		\coordinate (r6) at (50, 33);
		\node [atom] (o4) at (79, 37.5) {OH};
		\draw [bond] (o1) -- (c1) -- (c2) -- (c3) -- (r1);
		\draw [dbond] (c1) -- (o2);
		\draw [dbond] (c2) -- (o3);
		\draw [bond] (r1) -- (r2) -- (r3) -- (r4) -- (r5) -- (r6) -- cycle;
		\draw [bond] (r4) -- (o4);
	\end{scope}

	\cpd{C00011f}{688}{555}{728}{586}{C00011}
	\carbdiox{C00011f}

	\cpd{C03765}{742}{529}{784}{615}{C03765}
	\begin{scope}[shift = {(C03765.north west)}]
		\node [atom] (o1) at (23.3, 7.8) {O};
		\coordinate (c1) at (23.3, 17.2);
		\node [atom] (h) at (33.9, 24.7) {H};
		\coordinate (c2) at (14.1, 23.7);
		\coordinate (r1) at (14.1, 33.1);
		\coordinate (r2) at (23.3, 38.7);
		\coordinate (r3) at (23.3, 50.8);
		\coordinate (r4) at (14.1, 56.4);
		\coordinate (r5) at (5.7, 50.8);
		\coordinate (r6) at (5.7, 38.7);
		\node [atom] (o2) at (17, 68) {OH};
		\draw [dbond] (c1) -- (o1);
		\draw [bond] (h) -- (c1) -- (c2) -- (r1);
		\draw [bond] (r1) -- (r2) -- (r3) -- (r4) -- (r5) -- (r6) -- cycle;
		\draw [bond] (r4) -- (o2);
	\end{scope}

	\cpd{C00014}{799}{550}{838}{594}{C00014}
	\ammonia{C00014}
	\cpd{C00027}{850}{558}{891}{585}{C00027}
	\perox{C00027}

	\cpd{C00483}{701}{726}{784}{771}{C00483}
	\begin{scope}[shift = {(C00483.north west)}]
		\node [atom] (n) at (9.2, 7.5) {H\textsubscript{2}N};
		\coordinate (c1) at (23.3, 11.8);
		\coordinate (c2) at (32.2, 6.2);
		\coordinate (r1) at (42.1, 11.8);
		\coordinate (r2) at (51, 6.2);
		\coordinate (r3) at (61.5, 11.8);
		\coordinate (r4) at (61.5, 23);
		\coordinate (r5) at (51, 27.7);
		\coordinate (r6) at (42.1, 23);
		\node [atom] (o1) at (72.1, 28) {OH};
		\draw [bond] (n) -- (c1) -- (c2) -- (r1);
		\draw [bond] (r1) -- (r2) -- (r3) -- (r4) -- (r5) -- (r6) -- cycle;
		\draw [bond] (r4) -- (o1);
	\end{scope}

	\cpd{C00007c}{798}{731}{839}{761}{C00007}
	\dioxy{C00007c}
	\cpd{C00001c}{851}{731}{891}{766}{C00001}
	\water{C00001c}
	\cpd{C00007d}{906}{737}{945}{770}{C00007}
	\dioxy{C00007d}
	\cpd{C00004b}{960}{701}{1129}{796}{C00004}
	\nadh{C00004b}
	\cpd{C00080b}{1143}{737}{1183}{762}{C00080}
	\proton{C00080b}

	\cpd{C00082}{672}{895}{767}{955}{C00082}
	\begin{scope}[shift = {(C00082.north west)}]
		\node [atom] (o1) at (18, 9) {O};
		\coordinate (c1) at (18, 19.5);
		\node [atom] (o2) at (8.5, 24.5) {HO};
		\coordinate (c2) at (28, 24.5);
		\node [atom] (n) at (31, 36) {NH\textsubscript{2}};
		\coordinate (c3) at (38, 19.5);
		\coordinate (r1) at (48, 24.5);
		\coordinate (r2) at (57, 19.5);
		\coordinate (r3) at (66, 24.5);
		\coordinate (r4) at (66, 35.5);
		\coordinate (r5) at (57, 40.5);
		\coordinate (r6) at (48, 35.5);
		\node [atom] (o3) at (78, 40.5) {OH};
		\draw [dbond] (c1) -- (o1);
		\draw [bond] (o2) -- (c1) -- (c2) -- (c3) -- (r1);
		\draw [bond] (c2) -- (n);
		\draw [bond] (r1) -- (r2) -- (r3) -- (r4) -- (r5) -- (r6) -- cycle;
		\draw [bond] (r4) -- (o3);
	\end{scope}

	\cpd{C00003e}{780}{877}{950}{974}{C00003}
	\nadplus{C00003e}
	\cpd{C00001d}{964}{906}{1005}{943}{C00001}
	\water{C00001d}
	\cpd{C00007e}{1017}{913}{1057}{938}{C00007}
	\dioxy{C00007e}

	\cpd{C03758}{1071}{901}{1155}{948}{C03758}
	\begin{scope}[shift = {(C03758.north west)}]
		\node [atom] (n) at (10.6, 7.5) {H\textsubscript{2}N};
		\coordinate (c1) at (23.3, 12.5);
		\coordinate (c2) at (33, 7.5);
		\coordinate (r1) at (42.8, 12.5);
		\coordinate (r2) at (51.6, 7.5);
		\coordinate (r3) at (60.4, 12.5);
		\coordinate (r4) at (60.4, 23.7);
		\coordinate (r5) at (51.6, 28.4);
		\coordinate (r6) at (42.8, 23.7);
		\node [atom] (o1) at (72.3, 7.5) {OH};
		\node [atom] (o2) at (72.3, 29.3) {OH};
		\draw [bond] (n) -- (c1) -- (c2) -- (r1);
		\draw [bond] (r1) -- (r2) -- (r3) -- (r4) -- (r5) -- (r6) -- cycle;
		\draw [bond] (r3) -- (o1);
		\draw [bond] (r4) -- (o2);
	\end{scope}

	\cpd{C00011g}{1172}{911}{1211}{940}{C00011}
	\carbdiox{C00011g}
	\cpd{C00001e}{926}{1073}{966}{1109}{C00001}
	\water{C00001e}

	\cpd{C00822}{980}{1061}{1067}{1119}{C00822}
	\begin{scope}[shift = {(C00822.north west)}]
		\node [atom] (o1) at (21.9, 7.5) {O};
		\coordinate (c1) at (21.9, 18.7);
		\node [atom] (o2) at (9.2, 24.3) {HO};
		\coordinate (c2) at (31.7, 24.3);
		\node [atom] (n) at (34.6, 35.5) {NH\textsubscript{2}};
		\coordinate (c3) at (40.5, 19.6);
		\coordinate (r1) at (50.2, 24.3);
		\coordinate (r2) at (59, 19.6);
		\coordinate (r3) at (68.2, 24.3);
		\coordinate (r4) at (68.2, 35.5);
		\coordinate (r5) at (59, 40.2);
		\coordinate (r6) at (50.2, 35.5);
		\node [atom] (o3) at (78.6, 19.6) {O};
		\node [atom] (o4) at (78, 41.1) {O};
		\draw [dbond] (c1) -- (o1);
		\draw [bond] (o2) -- (c1) -- (c2) -- (c3) -- (r1);
		\draw [bond] (c2) -- (n);
		\draw [bond] (r1) -- (r2) -- (r3) -- (r4) -- (r5) -- (r6) -- cycle;
		\draw [dbond] (r3) -- (o3);
		\draw [dbond] (r4) -- (o4);
	\end{scope}

	\cpd{C00355}{1081}{1061}{1175}{1119}{C00355}
	\begin{scope}[shift = {(C00355.north west)}]
		\node [atom] (o1) at (23.7, 8.4) {O};
		\coordinate (c1) at (23.7, 19.6);
		\node [atom] (o2) at (10.9, 24.3) {HO};
		\coordinate (c2) at (33.4, 24.3);
		\node [atom] (n) at (37.3, 35.5) {NH\textsubscript{2}};
		\coordinate (c3) at (43.2, 19.6);
		\coordinate (r1) at (53, 24.3);
		\coordinate (r2) at (61.8, 19.6);
		\coordinate (r3) at (70.6, 24.3);
		\coordinate (r4) at (70.6, 35.5);
		\coordinate (r5) at (61.8, 40.2);
		\coordinate (r6) at (53, 35.5);
		\node [atom] (o3) at (84.2, 18.7) {OH};
		\node [atom] (o4) at (84.2, 40.7) {OH};
		\draw [dbond] (c1) -- (o1);
		\draw [bond] (o2) -- (c1) -- (c2) -- (c3) -- (r1);
		\draw [bond] (c2) -- (n);
		\draw [bond] (r1) -- (r2) -- (r3) -- (r4) -- (r5) -- (r6) -- cycle;
		\draw [bond] (r3) -- (o3);
		\draw [bond] (r4) -- (o4);
	\end{scope}

	% Links, left branch

	\draw [link] (C00279) -- (R01830);
	\draw [link] (C00231) -- (R01830);
	\draw [link] (C00279.257) to [out = -90, in = 135] (R01827.north west);
	\draw [link] (R01830) -- (C05345);
	\draw [link] (R01830.south east) to [out = -55, in = 92] (C00118.79);
	\draw [link] (C05345) -- (R01827);
	\draw [link] (R01827) -- (C05382);
	\draw [link] (R01827) -- (C00118);
	\draw [link] (C00118.south) to [out = -70, in = 170] (R01061.170);
	\draw [link] (C00003a) -- (R01061);
	\draw [link] (C00009a.245) to [out = -110, in = 20] (R01061.12);
	\draw [link] (R01061) -- (C00236);
	\draw [link] (R01061) -- (C00080a);
	\draw [link] (R01061) -- (C00004a);
	\draw [link] (C00236.-39) to [out = -50, in = 165] (R01512.170);
	\draw [link] (C00003b.212) to [out = -120, in = 10] (R01512.5);
	\draw [link] (R01512) -- (C00197);
	\draw [link] (R01512) -- (C00002a);
	\draw [link] (C00197) -- (R01518);
	\draw [link] (R01518) -- (C00631);
	\draw [link] (C00631) -- (R00658);
	\draw [link] (R00658.197) to [out = 195, in = 70] (C00001a.61);
	\draw [link] (R00658.345) to [out = -15, in = 140] (C00074.north west);
	\draw [link] (C00361) -- (R01858);
	\draw [link] (C00074) -- (R01858);
	\draw [link] (C00074) -- (R00341);
	\draw [link] (C00011a) -- (R00341);
	\draw [link] (C00003c) -- (R00341);
	\draw [link] (R01858) -- (C00286);
	\draw [link] (R01858.south east) to [out = -50, in = 100] (C00022.north);
	\draw [link] (R00341) -- (C00036);
	\draw [link] (R00341) -- (C00002b);
	\draw [link] (C00036.-43) to [out = -35, in = 175] (R00344.185);
	\draw [link] (C00009b) -- (R00344);
	\draw [link] (C00003d) -- (R00344);
	\draw [link] (R00344.190) to [out = 190, in = 30] (C00022.27);
	\draw [link] (R00344) -- (C00002c);
	\draw [link] (R00344) -- (C00288);
	\draw [link] (C00022) -- (R00006);
	\draw [link] (R00006) -- (C00011b);
	\draw [link] (R00006) -- (C00900);

	% Links, right branch

	\draw [link] (C00011c.303) to [out = -80, in = 155] (R07500.158);
	\draw [link] (C00013) -- (R07500);
	\draw [link] (C15882) -- (R07500);
	\draw [link] (R07500) -- (C05427);
	\draw [link] (R07500.-7) to [out = -15, in = 140] (C00544.137);
	\draw [link] (C00011d) -- (R02520);
	\draw [link] (C05585) -- (R02520);
	\draw [link] (C00001b.250) to [out = -100, in = 25] (R02520.20);
	\draw [link] (R02520.south west) to [out = -130, in = 35] (C00544.31);
	\draw [link] (R02520) -- (C00007a);
	\draw [link] (C00011e.309) to [out = -75, in = 170] (R02521.175);
	\draw [link] (C00544.246) to [out = -120, in = 10] (R02521.-5);
	\draw [link] (R02521) -- (C00007b);
	\draw [link] (R02521) -- (C01179);
	\draw [link] (C01179) -- (R03341);
	\draw [link] (R03341) -- (C00011f);
	\draw [link] (R03341) -- (C03765);
	\draw [link] (C03765) -- (R02382);
	\draw [link] (C00014) -- (R02382);
	\draw [link] (C00027.248) to [out = -110, in = 70] (R02382.59);
	\draw [link] (R02382) -- (C00483);
	\draw [link] (R02382) -- (C00007c);
	\draw [link] (R02382) -- (C00001c);
	\draw [link] (C00483.314) to [out = -55, in = 175] (R02383.163);
	\draw [link] (C00007d) -- (R02383);
	\draw [link] (C00004b) -- (R02383);
	\draw [link] (C00080b.256) to [out = -100, in = 15] (R02383.17);
	\draw [link] (R02383) -- (C00003e);
	\draw [link] (R02383) -- (C00001d);
	\draw [link] (R02383.336) to [out = -15, in = 130] (C03758.119);
	\draw [link] (C00082.304) to [out = -40, in = 178] (R02078.180);
	\draw [link] (C00007e) -- (R02078);
	\draw [link] (C03758) -- (R02080);
	\draw [link] (C00011g.240) to [out = -105, in = 60] (R02080.46);
	\draw [link] (R02078.south west) to [out = -145, in = 65] (C00001e.north);
	\draw [link] (R02078) -- (C00822);
	\draw [link] (R02078.316) -- (C00355.134);
	\draw [link] (C00355.112) to [out = 145, in = -30] (R02078.south east);
	\draw [link] (R02080) -- (C00355);

\end{tikzpicture}
\end{document}
